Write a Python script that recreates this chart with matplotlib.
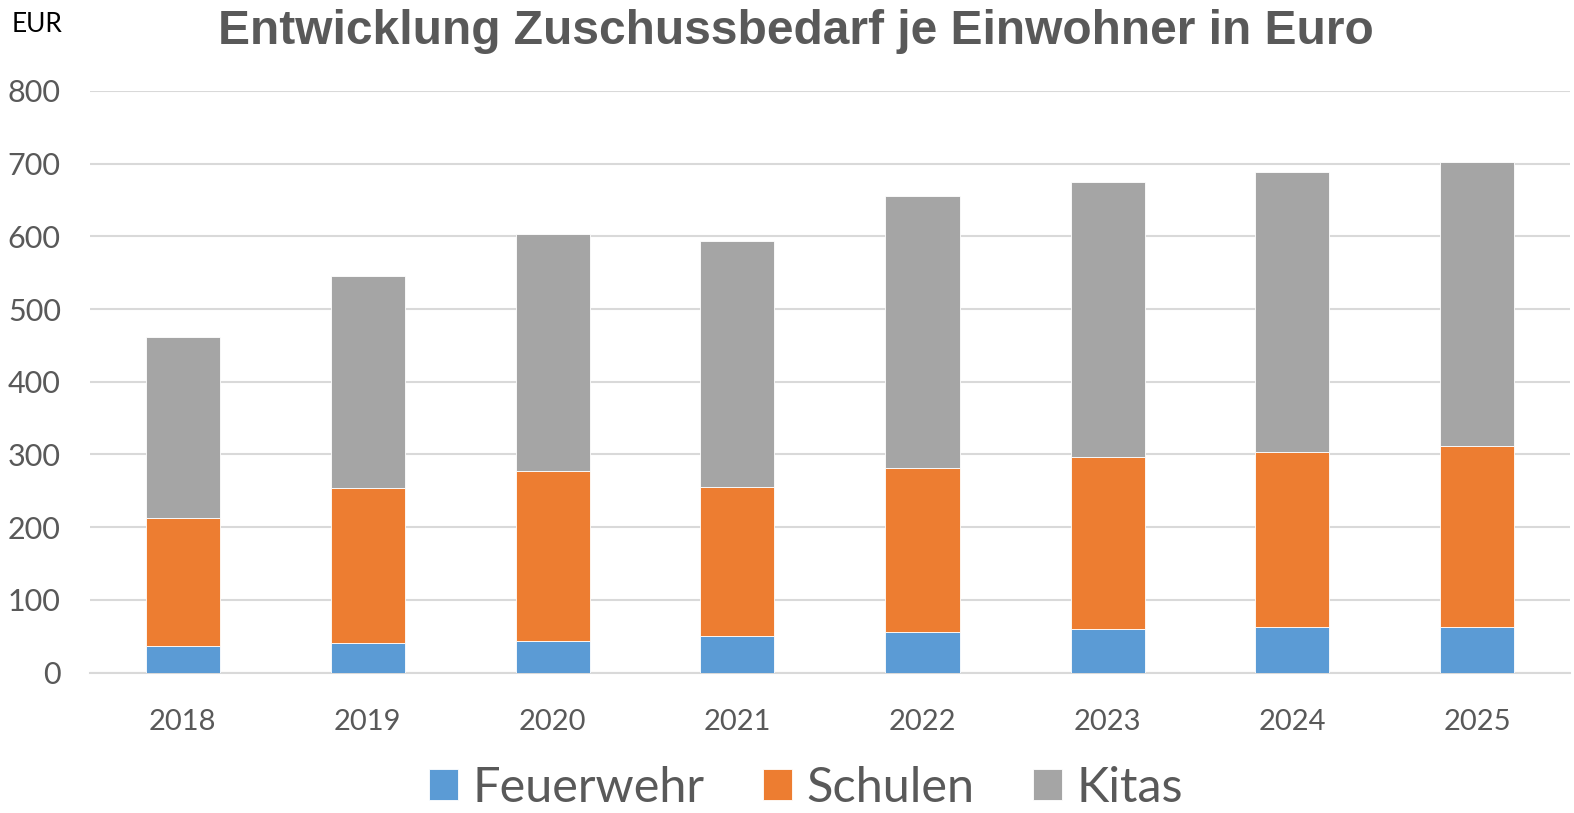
import matplotlib
matplotlib.use('Agg')
import matplotlib.pyplot as plt
import numpy as np

# values (EUR per inhabitant)
years = ['2018', '2019', '2020', '2021', '2022', '2023', '2024', '2025']
feuerwehr = [37, 40, 44, 50, 56, 60, 62, 63]
schulen = [176, 214, 233, 205, 225, 237, 242, 248]
kitas = [249, 291, 326, 339, 375, 378, 384, 391]
series_names = ['Feuerwehr', 'Schulen', 'Kitas']
colors = ['#5B9BD5', '#ED7D31', '#A5A5A5']

plt.rcParams['font.family'] = ['Lato', 'DejaVu Sans']

fig = plt.figure(figsize=(15.74, 8.13), dpi=100)
ax = fig.add_axes([90 / 1574, 1 - 672.5 / 813, 1480 / 1574, 581.5 / 813])

x = np.arange(len(years))
bottom = np.zeros(len(years))
for name, vals, col in zip(series_names, [feuerwehr, schulen, kitas], colors):
    ax.bar(x, vals, width=0.4, bottom=bottom, color=col, label=name,
           edgecolor='white', linewidth=0.6, zorder=3)
    bottom += np.array(vals)

ax.set_xlim(-0.5, len(years) - 0.5)
ax.set_ylim(0, 800)
ax.set_yticks(range(0, 801, 100))
ax.set_xticks(x)
ax.set_xticklabels(years)
ax.grid(axis='y', color='#D9D9D9', linewidth=1.5, zorder=0)
for s in ['top', 'right', 'left']:
    ax.spines[s].set_visible(False)
ax.spines['bottom'].set_color('#D9D9D9')
ax.spines['bottom'].set_linewidth(1.5)
ax.tick_params(axis='both', length=0, labelsize=21, labelcolor='#595959')
ax.tick_params(axis='y', labelsize=22, pad=21)
ax.tick_params(axis='x', pad=26)

fig.text(796 / 1574, 1 - 31 / 813, 'Entwicklung Zuschussbedarf je Einwohner in Euro',
         ha='center', va='center', fontsize=34.5, fontweight='bold',
         color='#595959', family=['Liberation Sans', 'DejaVu Sans'])
fig.text(12 / 1574, 1 - 24 / 813, 'EUR', ha='left', va='center',
         fontsize=19, color='black')

fig.legend(loc='center', bbox_to_anchor=(806 / 1574, 1 - 788 / 813), ncol=3,
           frameon=False, fontsize=35, labelcolor='#595959',
           handlelength=0.6, handleheight=0.6, handletextpad=0.3,
           columnspacing=1.2, borderpad=0)

fig.savefig('out.png', dpi=100)
